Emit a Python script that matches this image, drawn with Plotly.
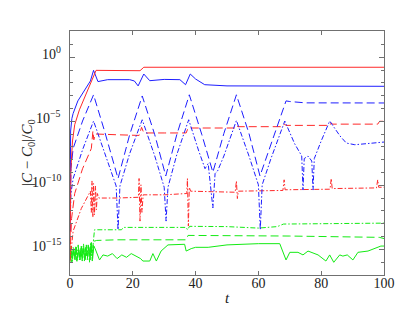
import plotly.graph_objects as go

# ---------------- data ----------------
t_red_solid = [0, 0.3, 0.8, 1.5, 3, 5, 7, 8.3, 22.3, 23.5, 100]
red_solid = [9e-16, 2e-9, 2.9e-7, 5.4e-6, 7.9e-5, 1.17e-3, 1.78e-2, 9.5e-2, 8.9e-2, 1.66e-1, 1.66e-1]

t_blue_solid = [0, 0.2, 0.6, 1, 2.5, 5, 6.5, 7.5, 8.9, 12, 19, 20.5, 21.7, 23.5, 25.4,
                30, 35, 36.8, 38.3, 40, 42.9, 50, 100]
blue_solid = [2.7e-14, 1.74e-6, 1.66e-5, 4.1e-5, 3.9e-4, 3.6e-3, 1.41e-2, 9.5e-2, 1.26e-2,
              1.78e-2, 1.78e-2, 1.41e-2, 5.8e-3, 4.9e-2, 1.48e-2, 1.86e-2, 1.78e-2, 7.2e-3,
              4.9e-2, 2e-2, 7.2e-3, 5.8e-3, 5.4e-3]

t_blue_dash = [0, 0.3, 1, 4, 7.5, 11, 15.3, 19, 23, 27, 30.5, 34, 38, 42, 45.5, 49, 53, 57,
               60.5, 64, 68.8, 70, 75, 100]
blue_dash = [2.7e-14, 2e-9, 7.6e-8, 1.05e-5, 1.17e-3, 1.74e-6, 3.4e-10, 8.9e-7, 9.5e-4,
             8.9e-7, 5.4e-10, 8.9e-7, 1.17e-3, 8.9e-7, 1.05e-9, 1.12e-6, 1.17e-3, 1.12e-6,
             5.4e-10, 1.86e-7, 3.9e-4, 3.5e-4, 2.75e-4, 2.7e-4]

t_blue_dashdot = [0, 0.3, 1, 4, 7.5, 11, 14.7, 15.3, 15.9, 19, 23, 27, 30, 30.6, 31.2, 34,
                  37.8, 41, 43, 44, 45.5, 46.2, 47, 49, 53, 57, 60, 60.6, 61.2, 64, 68.4,
                  71.5, 73.8, 74.2, 74.6, 75.8, 77.0, 77.4, 77.8, 80, 82.7, 86, 88, 90.7,
                  95, 100]
blue_dashdot = [2.7e-14, 2.3e-11, 3.4e-10, 6e-8, 1.05e-5, 3e-8, 8.9e-11, 3.4e-14, 8.9e-11,
                3e-8, 1.32e-5, 1.95e-8, 7.1e-11, 1.62e-13, 7.1e-11, 2.45e-8, 1.32e-5, 4.8e-8,
                2e-9, 5e-9, 1.7e-12, 8.3e-10, 1.32e-9, 1.95e-8, 1.17e-5, 1.95e-8, 1.1e-10,
                3.4e-14, 1.1e-10, 1.23e-8, 1.05e-5, 1.86e-7, 1.95e-8, 4.3e-11, 1.23e-8,
                1.95e-8, 7.9e-9, 4.3e-11, 1.23e-8, 2.9e-7, 1.05e-5, 7.1e-7, 2e-7, 1.48e-7,
                1.86e-7, 2.4e-7]

t_red_dash = [0, 0.5, 1.5, 4, 6.8, 7.3, 7.6, 8, 15, 22, 22.8, 23.5, 30, 37, 37.6, 45, 52.5,
              53, 53.5, 67.8, 68.3, 68.8, 82.8, 83.2, 83.6, 98, 98.6, 100]
red_dash = [3e-16, 2.6e-13, 2.3e-11, 2e-9, 7.6e-8, 1.74e-6, 3.6e-7, 1.02e-6, 8.9e-7, 7.9e-7,
            3.4e-6, 1.23e-6, 1.23e-6, 1.23e-6, 3e-6, 3e-6, 3e-6, 4.8e-6, 3.8e-6, 3.8e-6,
            6e-6, 4.8e-6, 4.8e-6, 7.6e-6, 6e-6, 6e-6, 1e-5, 1e-5]

t_red_dashdot = [0, 1, 3.6, 6.5, 6.8, 7.0, 7.3, 7.5, 7.8, 8.1, 8.4, 8.7, 9.2, 15, 21.8, 22.0,
                 22.3, 22.6, 22.9, 23.3, 30, 37.2, 37.4, 37.7, 38.0, 38.4, 45, 52.6, 53.0,
                 53.3, 53.6, 67.8, 68.2, 68.5, 82.8, 83.2, 83.5, 97.6, 98, 98.3, 100]
red_dashdot = [1.2e-16, 2.7e-14, 1.55e-12, 3.5e-11, 7.8e-13, 2.2e-10, 3.2e-13, 1.38e-10,
               5e-13, 8.9e-11, 1.23e-12, 2.3e-11, 1.02e-11, 1.02e-11, 1.17e-11, 3.4e-10,
               1.62e-13, 1.1e-10, 7.8e-13, 1.82e-11, 1.82e-11, 2.3e-11, 3.4e-10, 6.6e-14,
               7.1e-11, 3.5e-11, 3.2e-11, 2.9e-11, 2.2e-10, 9.3e-12, 3.5e-11, 4e-11,
               2.7e-10, 4.5e-11, 5e-11, 3.4e-10, 5.6e-11, 6.3e-11, 2.7e-10, 7.1e-11, 7.1e-11]

t_green_solid = [0, 0.4, 0.8, 1.2, 1.6, 2.0, 2.4, 2.8, 3.2, 3.6, 4.0, 4.4, 4.8, 5.2, 5.6, 6.0,
                 6.4, 6.8, 7.2, 7.6, 8.0, 9.4, 10.5, 12, 13.5, 15, 16.5, 18, 19.5, 21, 22.5,
                 23.2, 25.4, 26.4, 27.5, 29, 31.2, 36.5, 37, 38.6, 40, 44, 50, 60, 66.8,
                 68.8, 70, 72.6, 74.2, 75.8, 79, 81.5, 82.7, 84, 85.9, 86.9, 88.3, 90.1,
                 91.7, 94.9, 99, 100]
green_solid = [1.5e-16, 7.4e-16, 1.9e-16, 1.15e-15, 1.5e-16, 1.45e-15, 2.4e-16, 9.1e-16,
               1.5e-16, 1.82e-15, 1.9e-16, 1.15e-15, 1.5e-16, 2.24e-15, 3e-16, 1.45e-15,
               1.5e-16, 3.5e-15, 1.9e-16, 1.82e-15, 1.15e-15, 1.5e-16, 3.7e-16, 3e-16,
               4.7e-16, 1.9e-16, 3.7e-16, 2.4e-16, 4.7e-16, 3e-16, 1.9e-16, 1.23e-16,
               1.23e-16, 4.7e-16, 1.23e-16, 7.4e-16, 2.24e-15, 2.5e-15, 7.4e-16, 1.15e-15,
               1.45e-15, 1.45e-15, 2.24e-15, 2.8e-15, 2.8e-15, 1.5e-16, 5.9e-16, 5.9e-16,
               3.7e-16, 7.4e-16, 3.7e-16, 1.23e-16, 3.7e-16, 9.8e-17, 3.7e-16, 3e-16,
               3.7e-16, 1.5e-16, 5.9e-16, 7.4e-16, 1.82e-15, 1.82e-15]

t_green_dash = [0, 0.3, 0.7, 1.1, 1.5, 1.9, 2.3, 2.7, 3.1, 3.5, 3.9, 4.3, 4.7, 5.1, 5.5, 5.9,
                6.3, 6.7, 7.1, 7.5, 7.9, 8.5, 15, 25, 37, 37.6, 50, 70, 98.5, 100]
green_dash = [9.8e-17, 1.82e-15, 1.23e-16, 7.4e-16, 3e-16, 2.24e-15, 1.5e-16, 1.45e-15,
              2.4e-16, 9.1e-16, 1.23e-16, 2.8e-15, 1.9e-16, 1.15e-15, 1.5e-16, 1.82e-15,
              3.7e-16, 2.8e-15, 1.23e-16, 4.5e-15, 4.5e-15, 5e-15, 5.6e-15, 5.6e-15,
              5.6e-15, 1.23e-14, 1.23e-14, 1.1e-14, 8.7e-15, 7e-15]

t_green_dashdot = [0, 0.2, 0.6, 1.0, 1.4, 1.8, 2.2, 2.6, 3.0, 3.4, 3.8, 4.2, 4.6, 5.0, 5.4,
                   5.8, 6.2, 6.6, 7.0, 7.4, 7.8, 8.5, 16.4, 17, 37, 37.4, 38.1, 50, 60, 66,
                   68, 100]
green_dashdot = [1.9e-16, 1.15e-15, 9.8e-17, 1.45e-15, 1.9e-16, 7.4e-16, 9.8e-17, 2.24e-15,
                 1.5e-16, 1.15e-15, 2.4e-16, 1.82e-15, 1.23e-16, 1.45e-15, 3e-16, 2.24e-15,
                 9.8e-17, 3.5e-15, 3e-16, 5.6e-15, 3.4e-14, 3.4e-14, 3.4e-14, 5.2e-14,
                 5.2e-14, 3.4e-14, 6.3e-14, 6e-14, 4.6e-14, 6e-14, 9.5e-14, 1.12e-13]

x_ticks = [0, 20, 40, 60, 80, 100]
y_ticks = [1e-15, 1e-10, 1e-5, 1]
y_tick_exp = [-15, -10, -5, 0]
y_tick_text = ["10<sup>−15</sup>", "10<sup>−10</sup>", "10<sup>−5</sup>", "10<sup>0</sup>"]
y_minor = [1e-17, 1e-16, 1e-14, 1e-13, 1e-12, 1e-11, 1e-9, 1e-8, 1e-7, 1e-6, 1e-4, 1e-3,
           1e-2, 1e-1, 1e1]
y_title = "|<i>C</i> − <i>C</i><sub>0</sub>|/<i>C</i><sub>0</sub>"

# ---------------- styles ----------------
RED = "rgb(255,40,40)"
BLUE = "rgb(30,30,255)"
GREEN = "rgb(20,235,20)"
DASH = "8px,4px"
DASHDOT = "5px,2px,1.5px,2px"

series = [
    (t_green_solid, green_solid, GREEN, "solid"),
    (t_green_dash, green_dash, GREEN, DASH),
    (t_green_dashdot, green_dashdot, GREEN, DASHDOT),
    (t_red_dashdot, red_dashdot, RED, DASHDOT),
    (t_red_dash, red_dash, RED, DASH),
    (t_blue_dashdot, blue_dashdot, BLUE, DASHDOT),
    (t_blue_dash, blue_dash, BLUE, DASH),
    (t_blue_solid, blue_solid, BLUE, "solid"),
    (t_red_solid, red_solid, RED, "solid"),
]

fig = go.Figure()
for tx, yv, col, dash in series:
    fig.add_trace(go.Scatter(x=tx, y=yv, mode="lines",
                             line=dict(color=col, width=1, dash=dash),
                             showlegend=False, hoverinfo="skip"))

FONT = "Liberation Serif, DejaVu Serif, serif"
AXC = "#707070"

# y tick labels, centred on their ticks as a whole (superscript included)
for ex, txt in zip(y_tick_exp, y_tick_text):
    fig.add_annotation(x=0, xref="paper", y=ex, yref="y", text=txt, showarrow=False,
                       xanchor="right", yanchor="middle", xshift=-7, yshift=4,
                       font=dict(family=FONT, size=14, color="#222"))
# y axis title
fig.add_annotation(x=0, xref="paper", y=0.5, yref="paper", text=y_title, showarrow=False,
                   textangle=-90, xanchor="center", yanchor="middle", xshift=-42,
                   font=dict(family=FONT, size=15, color="#222"))

fig.update_layout(
    width=415, height=312,
    margin=dict(l=62, r=39, t=23, b=45, autoexpand=False),
    paper_bgcolor="white", plot_bgcolor="white",
    font=dict(family=FONT, size=14, color="#222"),
    xaxis=dict(range=[0, 100], tickvals=x_ticks, ticks="inside", ticklen=4,
               tickcolor=AXC, showline=True, linecolor=AXC, linewidth=1.2,
               mirror="ticks", showgrid=False, zeroline=False, ticklabelstandoff=-5,
               tickfont=dict(family=FONT, size=14),
               title=dict(text="<i>t</i>", font=dict(family=FONT, size=15), standoff=2)),
    yaxis=dict(type="log", range=[-17, 2.05], tickvals=y_ticks, showticklabels=False,
               ticks="inside", ticklen=5, tickcolor=AXC, showline=True, linecolor=AXC,
               linewidth=1.2, mirror="ticks", showgrid=False, zeroline=False,
               minor=dict(tickvals=y_minor, ticks="inside", ticklen=3, tickcolor=AXC,
                          showgrid=False)),
)

fig.write_html("out.html")
